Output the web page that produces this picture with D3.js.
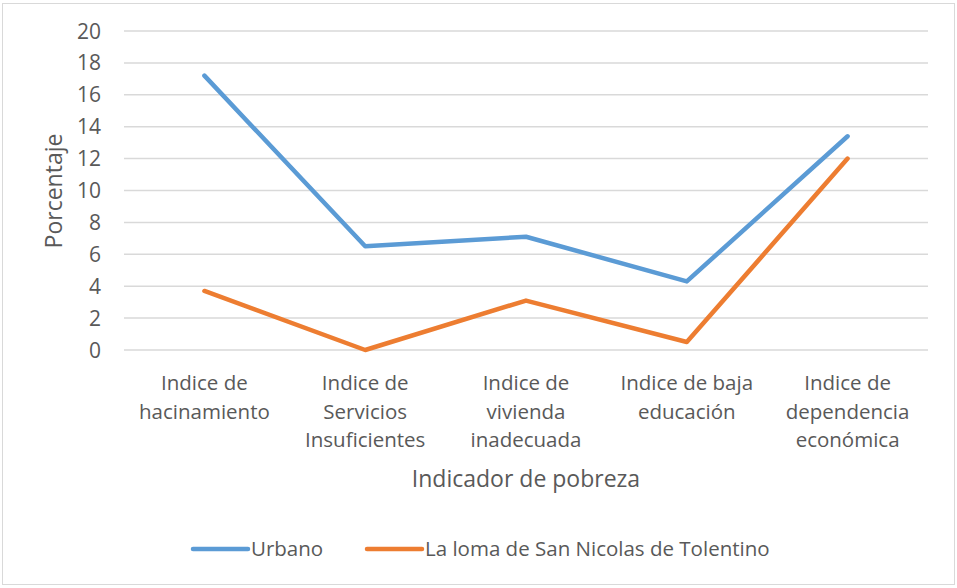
<!doctype html>
<html>
<head>
<meta charset="utf-8">
<title>Indicador de pobreza</title>
<script src="https://cdnjs.cloudflare.com/ajax/libs/d3/7.8.5/d3.min.js"></script>
<style>
  body { margin: 0; background: #fff; }
  text { font-family: "Open Sans", sans-serif; fill: #595959; }
</style>
</head>
<body>
<div id="chart"></div>
<script>
// data
const categories = [
  ["Indice de", "hacinamiento"],
  ["Indice de", "Servicios", "Insuficientes"],
  ["Indice de", "vivienda", "inadecuada"],
  ["Indice de baja", "educación"],
  ["Indice de", "dependencia", "económica"]
];
const urbano = [17.2, 6.5, 7.1, 4.3, 13.4];
const loma = [3.7, 0, 3.1, 0.5, 12.0];
const seriesNames = ["Urbano", "La loma de San Nicolas de Tolentino"];
const colors = ["#5B9BD5", "#ED7D31"];
const yTicks = [0, 2, 4, 6, 8, 10, 12, 14, 16, 18, 20];

const width = 957, height = 588;
const plotLeft = 124, plotRight = 928, plotTop = 31, plotBottom = 350;

const svg = d3.select('#chart').append('svg')
  .attr('width', width)
  .attr('height', height);

// chart border
svg.append('rect')
  .attr('x', 2.5).attr('y', 3.5)
  .attr('width', 952).attr('height', 581)
  .attr('fill', '#fff')
  .attr('stroke', '#d9d9d9');

const x = d3.scaleBand()
  .domain(d3.range(categories.length))
  .range([plotLeft, plotRight]);

const y = d3.scaleLinear()
  .domain([0, 20])
  .range([plotBottom, plotTop]);

// gridlines
svg.append('g')
  .selectAll('line')
  .data(yTicks)
  .join('line')
  .attr('x1', plotLeft).attr('x2', plotRight)
  .attr('y1', d => y(d)).attr('y2', d => y(d))
  .attr('stroke', '#d9d9d9')
  .attr('stroke-width', 1.5);

// y tick labels
svg.append('g')
  .selectAll('text')
  .data(yTicks)
  .join('text')
  .attr('x', 101)
  .attr('y', d => y(d))
  .attr('dy', '0.36em')
  .attr('text-anchor', 'end')
  .style('font-size', '21px')
  .text(d => d);

// x category labels
const xl = svg.append('g')
  .selectAll('text')
  .data(categories)
  .join('text')
  .attr('x', (d, i) => x(i) + x.bandwidth() / 2)
  .attr('y', 390)
  .attr('text-anchor', 'middle')
  .style('font-size', '20.5px');
xl.selectAll('tspan')
  .data(d => d)
  .join('tspan')
  .attr('x', function() { return this.parentNode.getAttribute('x'); })
  .attr('dy', (d, i) => i == 0 ? 0 : 28.5)
  .text(d => d);

// axis titles
svg.append('text')
  .attr('x', 526).attr('y', 487)
  .attr('text-anchor', 'middle')
  .style('font-size', '23px')
  .text('Indicador de pobreza');

svg.append('text')
  .attr('transform', 'translate(62,191) rotate(-90)')
  .attr('text-anchor', 'middle')
  .style('font-size', '23px')
  .text('Porcentaje');

// lines
const line = d3.line()
  .x((d, i) => x(i) + x.bandwidth() / 2)
  .y(d => y(d));

[urbano, loma].forEach((s, k) => {
  svg.append('path')
    .attr('d', line(s))
    .attr('fill', 'none')
    .attr('stroke', colors[k])
    .attr('stroke-width', 4.5)
    .attr('stroke-linecap', 'round')
    .attr('stroke-linejoin', 'round');
});

// legend
const legendX = [193, 367];
seriesNames.forEach((name, k) => {
  svg.append('line')
    .attr('x1', legendX[k]).attr('x2', legendX[k] + 55)
    .attr('y1', 549).attr('y2', 549)
    .attr('stroke', colors[k])
    .attr('stroke-width', 4.5)
    .attr('stroke-linecap', 'round');
  svg.append('text')
    .attr('x', legendX[k] + 58).attr('y', 549)
    .attr('dy', '0.36em')
    .style('font-size', '20.5px')
    .text(name);
});
</script>
</body>
</html>
